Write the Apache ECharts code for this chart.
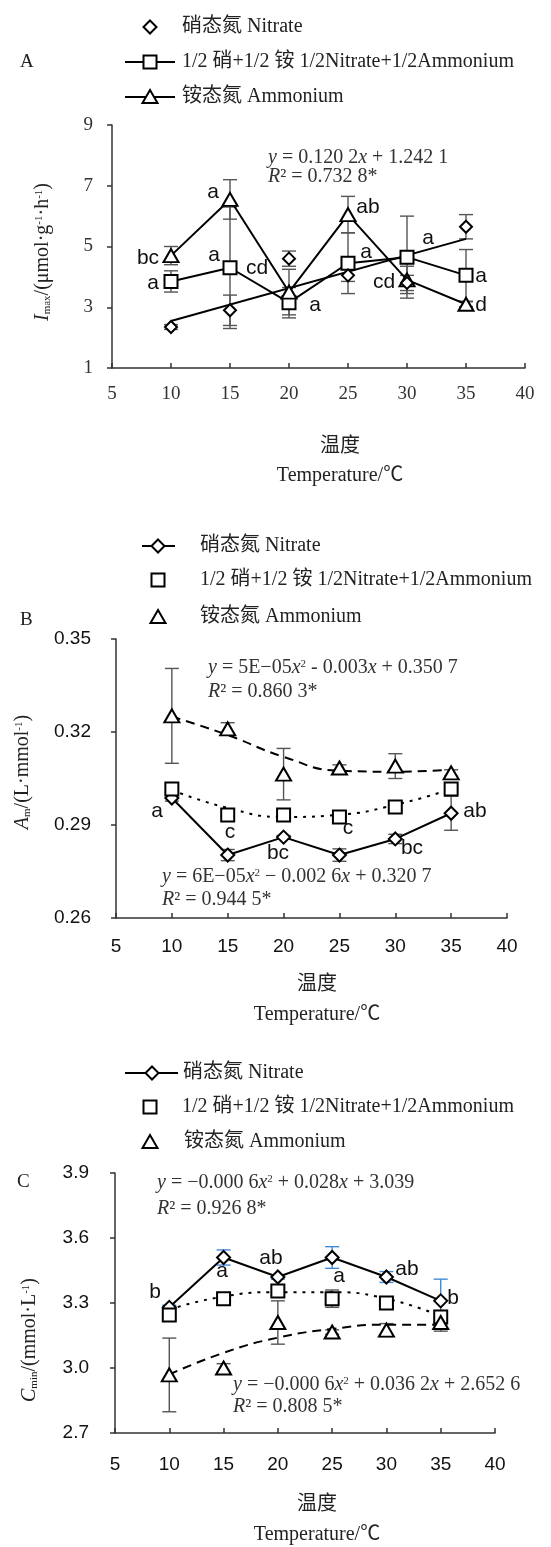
<!DOCTYPE html>
<html>
<head>
<meta charset="utf-8">
<script src="https://cdn.jsdelivr.net/npm/echarts@6/dist/echarts.min.js"></script>
<style>
html,body{margin:0;padding:0;background:#fff}
#main{width:551px;height:1547px}
</style>
</head>
<body>
<div id="main"></div>
<script>
// temperatures (x) shared by all panels
var temps = [10, 15, 20, 25, 30, 35];

// A: Imax
var nitrateA = [2.35, 2.9, 4.6, 4.05, 3.8, 5.65];
var nitrateAErr = [0.08, 0.5, 0.25, 0.2, 0.25, 0.4];
var mixA = [3.85, 4.3, 3.15, 4.45, 4.65, 4.05];
var mixAErr = [0.35, 2.0, 0.5, 1.0, 1.35, 0.85];
var ammoniumA = [4.7, 6.55, 3.5, 6.05, 3.9, 3.1];
var ammoniumAErr = [0.3, 0.65, 0.75, 0.6, 0.45, 0.08];
var trendAx = [10, 35];
var trendAy = [2.55, 5.25];
var yTicksA = [1, 3, 5, 7, 9];

// B: Am
var nitrateB = [0.2987, 0.2803, 0.2861, 0.2803, 0.2855, 0.2938];
var nitrateBErr = [0.001, 0.0018, 0.0005, 0.002, 0.0015, 0.0055];
var mixB = [0.3016, 0.2932, 0.2932, 0.2926, 0.2958, 0.3016];
var mixBErr = [0.001, 0.0005, 0.0005, 0.0005, 0.001, 0.0005];
var ammoniumB = [0.3252, 0.321, 0.3064, 0.3084, 0.309, 0.3068];
var ammoniumBErr = [0.0153, 0.002, 0.0083, 0.001, 0.004, 0.001];
var trendMixB = [0.3013, 0.2955, 0.2926, 0.2933, 0.2965, 0.3016];
var trendAmmB = [0.325, 0.319, 0.312, 0.3075, 0.3072, 0.3078];
var yTicksB = [0.26, 0.29, 0.32, 0.35];

// C: Cmin
var nitrateC = [3.28, 3.51, 3.42, 3.51, 3.42, 3.31];
var nitrateCErr = [0.01, 0.035, 0.01, 0.05, 0.025, 0.1];
var mixC = [3.245, 3.32, 3.355, 3.32, 3.30, 3.235];
var mixCErr = [0.01, 0.01, 0.02, 0.04, 0.01, 0.03];
var ammoniumC = [2.968, 3.0, 3.21, 3.166, 3.175, 3.21];
var ammoniumCErr = [0.17, 0.02, 0.1, 0.01, 0.03, 0.04];
var trendMixC = [3.27, 3.33, 3.35, 3.35, 3.32, 3.24];
var trendAmmC = [2.97, 3.07, 3.14, 3.18, 3.20, 3.20];
var yTicksC = [2.7, 3.0, 3.3, 3.6, 3.9];

var SERIF = '"Liberation Serif", "Noto Sans CJK SC", serif';
var SANS = '"Liberation Sans", Arial, sans-serif';

function pairs(xs, ys) {
  return xs.map(function (x, i) { return [x, ys[i]]; });
}

function errSeries(gi, vals, errs, color) {
  return {
    type: 'custom', xAxisIndex: gi, yAxisIndex: gi, z: 1, silent: true,
    data: temps.map(function (t, i) { return [t, vals[i], errs[i]]; }),
    encode: {x: 0, y: 1},
    renderItem: function (params, api) {
      var x = api.value(0), y = api.value(1), e = api.value(2);
      var hi = api.coord([x, y + e]), lo = api.coord([x, y - e]);
      var w = 7;
      var st = {stroke: color, lineWidth: 1.4};
      return {type: 'group', children: [
        {type: 'line', shape: {x1: hi[0], y1: hi[1], x2: lo[0], y2: lo[1]}, style: st},
        {type: 'line', shape: {x1: hi[0] - w, y1: hi[1], x2: hi[0] + w, y2: hi[1]}, style: st},
        {type: 'line', shape: {x1: lo[0] - w, y1: lo[1], x2: lo[0] + w, y2: lo[1]}, style: st}
      ]};
    }
  };
}

function marks(gi, vals, symbol, size, withLine) {
  return {
    type: withLine ? 'line' : 'scatter', xAxisIndex: gi, yAxisIndex: gi, z: 5,
    data: pairs(temps, vals), symbol: symbol, symbolSize: size,
    showSymbol: true,
    lineStyle: {color: '#000', width: 2},
    itemStyle: {color: '#fff', borderColor: '#000', borderWidth: 2, opacity: 1}
  };
}

function trend(gi, xs, ys, type, smooth) {
  return {
    type: 'line', xAxisIndex: gi, yAxisIndex: gi, z: 3, smooth: smooth,
    data: pairs(xs, ys), symbol: 'none',
    lineStyle: {color: '#000', width: 2, type: type}
  };
}

function xAxis(gi, font, size, margin, color) {
  return {
    type: 'value', gridIndex: gi, min: 5, max: 40, interval: 5,
    axisLine: {lineStyle: {color: '#333', width: 1.5}},
    axisTick: {inside: true, length: 5, lineStyle: {color: '#333', width: 1.5}},
    axisLabel: {fontFamily: font, fontSize: size, margin: margin, color: color},
    splitLine: {show: false}
  };
}

function yAxis(gi, ticks, font, size, margin, color, fmt) {
  return {
    type: 'value', gridIndex: gi, min: ticks[0], max: ticks[ticks.length - 1],
    axisLine: {show: true, lineStyle: {color: '#333', width: 1.5}},
    axisTick: {show: true, length: 5, customValues: ticks, lineStyle: {color: '#333', width: 1.5}},
    axisLabel: {fontFamily: font, fontSize: size, margin: margin, color: color,
      customValues: ticks, formatter: fmt},
    splitLine: {show: false}
  };
}

// ---- graphic helpers ----
var g = [];
function txt(x, y, text, size, font, align, color, rich, rot) {
  g.push({
    type: 'text', x: x, y: y, z: 10, rotation: rot || 0,
    style: {text: text, fontSize: size, fontFamily: font, fill: color || '#222',
      align: align || 'left', verticalAlign: 'middle', rich: rich}
  });
}
function shape(kind, x, y) {
  var st = {fill: '#fff', stroke: '#000', lineWidth: 2};
  if (kind === 'diamond') {
    g.push({type: 'polygon', z: 10, shape: {points: [[x, y - 6.5], [x + 6.5, y], [x, y + 6.5], [x - 6.5, y]]}, style: st});
  } else if (kind === 'rect') {
    g.push({type: 'rect', z: 10, shape: {x: x - 6.5, y: y - 6.5, width: 13, height: 13}, style: st});
  } else {
    g.push({type: 'polygon', z: 10, shape: {points: [[x, y - 7], [x + 7.5, y + 6], [x - 7.5, y + 6]]}, style: st});
  }
}
function legendRow(y, kind, line, sx, tx, text) {
  if (line) g.push({type: 'line', z: 9, shape: {x1: line[0], y1: y, x2: line[1], y2: y}, style: {stroke: '#000', lineWidth: 2}});
  shape(kind, sx, y);
  txt(tx, y, text, 20, SERIF, 'left', '#222');
}

var legNit = '硝态氮 Nitrate';
var legMix = '1/2 硝+1/2 铵 1/2Nitrate+1/2Ammonium';
var legAmm = '铵态氮 Ammonium';

var eqRich = {
  i: {fontStyle: 'italic', fontSize: 20, fontFamily: SERIF},
  sup: {fontSize: 11, fontFamily: SERIF, padding: [0, 0, 8, 0]}
};
var titleRich = {
  i: {fontStyle: 'italic', fontSize: 20, fontFamily: SERIF},
  sub: {fontSize: 11, fontFamily: SERIF, padding: [8, 0, 0, 0]},
  sup: {fontSize: 11, fontFamily: SERIF, padding: [0, 0, 8, 0]}
};

// panel A
txt(20, 62, 'A', 19, SERIF);
legendRow(27, 'diamond', null, 150, 182, legNit);
legendRow(62, 'rect', [125, 175], 150, 182, legMix);
legendRow(97, 'triangle', [125, 175], 150, 182, legAmm);
txt(268, 158, '{i|y} = 0.120 2{i|x} + 1.242 1', 20, SERIF, 'left', '#333', eqRich);
txt(268, 177, '{i|R}² = 0.732 8*', 20, SERIF, 'left', '#333', eqRich);
txt(340, 447, '温度', 20, SERIF, 'center');
txt(340, 476, 'Temperature/℃', 20, SERIF, 'center');
txt(43, 252, '{i|I}{sub|max}/(μmol·g{sup|-1}·h{sup|-1})', 20, SERIF, 'center', '#222', titleRich, Math.PI / 2);

// panel B
txt(20, 620, 'B', 19, SERIF);
legendRow(546, 'diamond', [142, 175], 158, 200, legNit);
legendRow(580, 'rect', null, 158, 200, legMix);
legendRow(617, 'triangle', null, 158, 200, legAmm);
txt(208, 668, '{i|y} = 5E−05{i|x}{sup|2} - 0.003{i|x} + 0.350 7', 20, SERIF, 'left', '#333', eqRich);
txt(208, 692, '{i|R}² = 0.860 3*', 20, SERIF, 'left', '#333', eqRich);
txt(162, 877, '{i|y} = 6E−05{i|x}{sup|2} − 0.002 6{i|x} + 0.320 7', 20, SERIF, 'left', '#333', eqRich);
txt(162, 900, '{i|R}² = 0.944 5*', 20, SERIF, 'left', '#333', eqRich);
txt(317, 985, '温度', 20, SERIF, 'center');
txt(317, 1015, 'Temperature/℃', 20, SERIF, 'center');
txt(23, 772, '{i|A}{sub|m}/(L·mmol{sup|-1})', 20, SERIF, 'center', '#222', titleRich, Math.PI / 2);

// panel C
txt(17, 1182, 'C', 19, SERIF);
legendRow(1073, 'diamond', [125, 178], 152, 183, legNit);
legendRow(1107, 'rect', null, 150, 182, legMix);
legendRow(1142, 'triangle', null, 150, 184, legAmm);
txt(157, 1183, '{i|y} = −0.000 6{i|x}{sup|2} + 0.028{i|x} + 3.039', 20, SERIF, 'left', '#333', eqRich);
txt(157, 1209, '{i|R}² = 0.926 8*', 20, SERIF, 'left', '#333', eqRich);
txt(233, 1385, '{i|y} = −0.000 6{i|x}{sup|2} + 0.036 2{i|x} + 2.652 6', 20, SERIF, 'left', '#333', eqRich);
txt(233, 1407, '{i|R}² = 0.808 5*', 20, SERIF, 'left', '#333', eqRich);
txt(317, 1505, '温度', 20, SERIF, 'center');
txt(317, 1535, 'Temperature/℃', 20, SERIF, 'center');
txt(30, 1340, '{i|C}{sub|min}/(mmol·L{sup|-1})', 20, SERIF, 'center', '#222', titleRich, Math.PI / 2);

// significance letters
var lettersA = [['bc', 148, 258], ['a', 153, 283], ['a', 213, 192], ['a', 214, 255], ['cd', 257, 268],
  ['a', 315, 305], ['ab', 368, 207], ['a', 366, 252], ['a', 428, 238], ['cd', 384, 282], ['a', 481, 276], ['d', 481, 305]];
var lettersB = [['a', 157, 811], ['c', 230, 832], ['bc', 278, 853], ['c', 348, 828], ['bc', 412, 848], ['ab', 475, 811]];
var lettersC = [['b', 155, 1292], ['a', 222, 1271], ['ab', 271, 1258], ['a', 339, 1276], ['ab', 407, 1269], ['b', 453, 1298]];
lettersA.concat(lettersB, lettersC).forEach(function (l) {
  txt(l[1], l[2], l[0], 21, SANS, 'center', '#111');
});

var chart = echarts.init(document.getElementById('main'));
chart.setOption({
  animation: false,
  backgroundColor: '#fff',
  grid: [
    {left: 112, top: 125, width: 413, height: 243},
    {left: 116, top: 639, width: 391, height: 279},
    {left: 115, top: 1173, width: 380, height: 260}
  ],
  xAxis: [
    xAxis(0, SERIF, 19, 17, '#333'),
    xAxis(1, SANS, 19, 19, '#111'),
    xAxis(2, SANS, 19, 22, '#111')
  ],
  yAxis: [
    yAxis(0, yTicksA, SERIF, 19, 19, '#333', function (v) { return String(v); }),
    yAxis(1, yTicksB, SANS, 19, 25, '#111', function (v) { return v.toFixed(2); }),
    yAxis(2, yTicksC, SANS, 19, 26, '#111', function (v) { return v.toFixed(1); })
  ],
  graphic: g,
  series: [
    errSeries(0, nitrateA, nitrateAErr, '#555'),
    errSeries(0, mixA, mixAErr, '#555'),
    errSeries(0, ammoniumA, ammoniumAErr, '#555'),
    trend(0, trendAx, trendAy, 'solid', false),
    marks(0, mixA, 'rect', 13, true),
    marks(0, ammoniumA, 'triangle', [15, 13], true),
    marks(0, nitrateA, 'diamond', [12, 12], false),

    errSeries(1, nitrateB, nitrateBErr, '#555'),
    errSeries(1, mixB, mixBErr, '#555'),
    errSeries(1, ammoniumB, ammoniumBErr, '#555'),
    trend(1, temps, trendMixB, [3, 6], true),
    trend(1, temps, trendAmmB, [9, 6], true),
    marks(1, nitrateB, 'diamond', [13, 13], true),
    marks(1, mixB, 'rect', 13, false),
    marks(1, ammoniumB, 'triangle', [15, 13], false),

    errSeries(2, nitrateC, nitrateCErr, '#3f8ad8'),
    errSeries(2, mixC, mixCErr, '#555'),
    errSeries(2, ammoniumC, ammoniumCErr, '#555'),
    trend(2, temps, trendMixC, [3, 6], true),
    trend(2, temps, trendAmmC, [9, 6], true),
    marks(2, nitrateC, 'diamond', [13, 13], true),
    marks(2, mixC, 'rect', 13, false),
    marks(2, ammoniumC, 'triangle', [15, 13], false)
  ]
});
</script>
</body>
</html>
